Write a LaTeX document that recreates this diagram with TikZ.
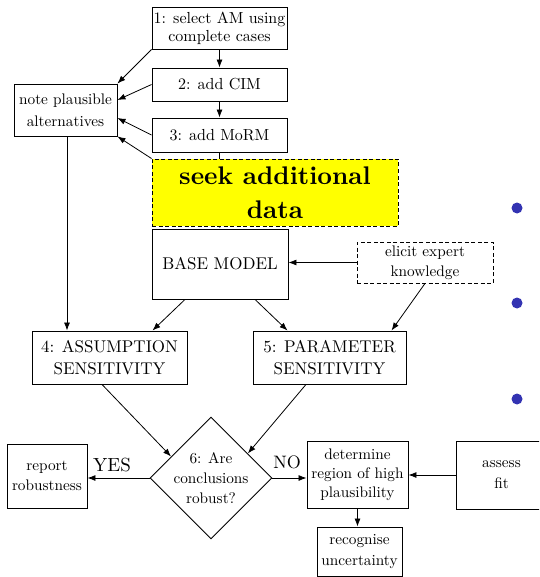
\documentclass[tikz,border=0pt]{standalone}
\usepackage{fontspec}
\setmainfont{lmroman10-regular.otf}[BoldFont=lmroman10-bold.otf]
\usetikzlibrary{arrows.meta,shapes.geometric,calc}
\definecolor{hilite}{rgb}{1,1,0}
\definecolor{bulletblue}{rgb}{0.2,0.2,0.7}
\pgfdeclarelayer{links}
\pgfsetlayers{links,main}

\tikzset{
  flowbox/.style={draw, line width=0.9pt, inner sep=0pt, align=center,
    font=\fontsize{15.3}{20}\selectfont},
  stagebox/.style={flowbox, font=\fontsize{16}{18}\selectfont},
  bigbox/.style={flowbox, font=\fontsize{17}{22}\selectfont},
  dashbox/.style={flowbox, dash pattern=on 4pt off 2.5pt},
  flow/.style={line width=0.8pt, -{Latex[length=8pt,width=6pt]}},
  answer/.style={inner sep=0pt, font=\fontsize{19}{22}\selectfont},
  bullet/.style={circle, fill=bulletblue, inner sep=0pt, minimum size=11pt}
}

\begin{document}
\begin{tikzpicture}[x=1pt,y=-1pt]
\useasboundingbox (0,0) rectangle (539,577);
\clip (0,0) rectangle (539,577);

% model-building stages
\node[stagebox, minimum width=135pt, minimum height=42pt] (s1) at (219.5,28) {1: select AM using\\complete cases};
\node[stagebox, minimum width=135pt, minimum height=33pt] (s2) at (219.5,84.5) {2: add CIM};
\node[stagebox, minimum width=135pt, minimum height=34pt] (s3) at (219.5,135) {3: add MoRM};
\node[flowbox, minimum width=103pt, minimum height=52pt, font=\fontsize{15.3}{22}\selectfont] (note) at (65.5,110) {note plausible\\alternatives};

% extra data, drawn over the link from stage 3
\node[dashbox, fill=hilite, minimum width=246pt, minimum height=67pt,
      font=\fontsize{25.5}{34}\selectfont\bfseries] (seek) at (275,192.5) {seek additional\\data};

\node[bigbox, minimum width=136pt, minimum height=70pt] (base) at (220,264) {BASE MODEL};
\node[dashbox, minimum width=136pt, minimum height=41pt] (elicit) at (425,262.5) {elicit expert\\knowledge};

% sensitivity analyses
\node[bigbox, minimum width=155pt, minimum height=53pt] (sa) at (109.5,357.5) {4: ASSUMPTION\\SENSITIVITY};
\node[bigbox, minimum width=153pt, minimum height=53pt] (sp) at (329.5,357.5) {5: PARAMETER\\SENSITIVITY};

% decision
\node[flowbox, diamond, shape aspect=1, inner sep=-6pt, minimum width=122pt, minimum height=122pt] (robust) at (211,478) {6: Are\\conclusions\\robust?};
\node[flowbox, minimum width=80pt, minimum height=64pt] (report) at (47,476) {report\\robustness};
\node[flowbox, minimum width=101pt, minimum height=67pt, font=\fontsize{15.3}{19}\selectfont] (region) at (357.5,474.5) {determine\\region of high\\plausibility};
\node[flowbox, minimum width=91pt, minimum height=68pt, font=\fontsize{15.3}{21}\selectfont] (fit) at (501.5,475) {assess\\fit};
\node[flowbox, minimum width=85pt, minimum height=49pt, font=\fontsize{15.3}{21}\selectfont] (uncert) at (359.5,551.5) {recognise\\uncertainty};

\node[answer] (yes) at (112,465) {YES};
\node[answer, font=\fontsize{18}{22}\selectfont] (no) at (287,462) {NO};

% bullets
\node[bullet] (dot1) at (517,208) {};
\node[bullet] (dot2) at (517,303) {};
\node[bullet] (dot3) at (517,399) {};

\begin{pgfonlayer}{links}
\draw[flow] (s1) -- (s2);
\draw[flow] (s2) -- (s3);
\draw[flow] (s3) -- (base);
\draw[flow] (s1.south west) -- (note.north east);
\draw[flow] (s2.west) -- ([yshift=10pt]note.east);
\draw[flow] (s3.west) -- ([yshift=-8pt]note.east);
\draw[flow] (seek.north west) -- (note.south east);
\draw[flow] ([xshift=1.5pt]note.south) -- ([xshift=1.5pt]note.south |- sa.north);
\draw[flow] (elicit.west) -- (elicit.west -| base.east);
\draw[flow] ([xshift=-35pt]base.south) -- ([xshift=43pt]sa.north);
\draw[flow] ([xshift=35pt]base.south) -- ([xshift=-42pt]sp.north);
\draw[flow] (elicit.south) -- ([xshift=62pt]sp.north);
\draw[flow] ([xshift=-7.5pt]sa.south) -- ($(robust.west)!0.35!(robust.north)$);
\draw[flow] ([xshift=-23.5pt]sp.south) -- ($(robust.east)!0.4!(robust.north)$);
\draw[flow] (robust.west) -- (robust.west -| report.east);
\draw[flow] (robust.east) -- (robust.east -| region.west);
\draw[flow] (fit.west) -- (fit.west -| region.east);
\draw[flow] (region.south) -- (region.south |- uncert.north);
\end{pgfonlayer}
\end{tikzpicture}
\end{document}
